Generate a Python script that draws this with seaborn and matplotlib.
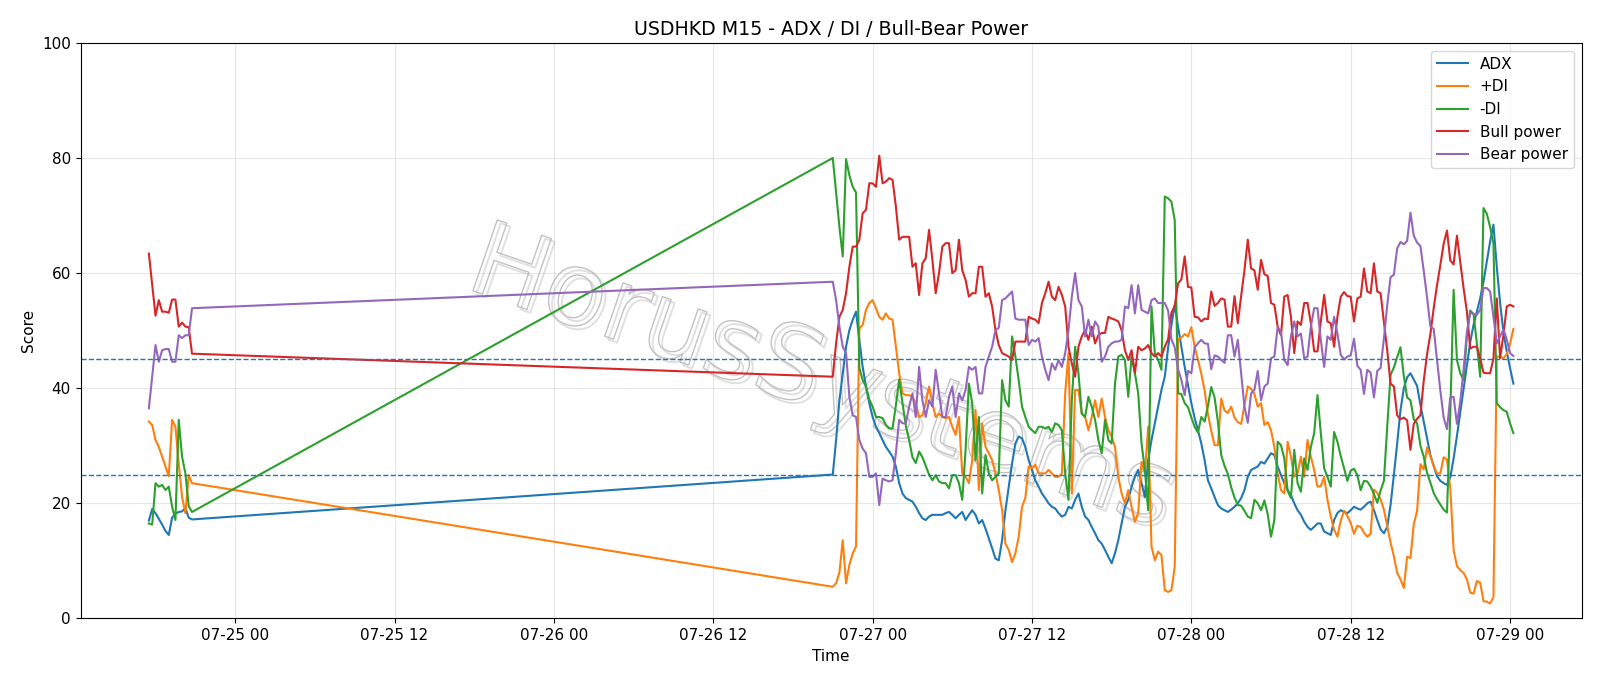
import numpy as np
import pandas as pd
import seaborn as sns
import matplotlib.pyplot as plt
import matplotlib.dates as mdates
import matplotlib.patheffects as pe

plt.rcParams["font.size"] = 11

# data (M15 bars, Friday close -> Sunday open gap)

pre_start = "2020-07-24 17:30"
post_start = "2020-07-26 21:00"

adx_pre = [17, 19, 18.3, 17.3, 16.3, 15.2, 14.5, 17.5, 18.2, 18.5, 18.6, 19.2, 17.5, 17.2]
adx_post = [25, 31, 37.9, 42.6, 47.2, 50.1, 51.9, 53.3, 48.4, 43.7, 40.3, 37.4, 35, 33.3, 32.2, 31, 29.8, 29, 28.1, 26.4,
            23.5, 21.7, 20.9, 20.6, 20.3, 19.4, 18.3, 17.4, 17.1, 17.7, 18, 18, 18, 18, 18.3, 18.5, 18, 17.4, 18, 18.5,
            17.1, 18, 18.8, 18, 16.5, 17.1, 15.6, 13.9, 12.2, 10.4, 10.1,
            13.6, 18.8, 22.9, 26.9, 30.4, 31.6, 31.3, 29.8, 27.5, 25.8, 24, 22.9, 21.7, 20.9, 20, 19.4, 19.1, 18.3, 17.7,
            18, 19.4, 19.1, 20.6, 21.7, 19.4, 17.7, 17.1, 15.9, 14.8, 13.6, 13, 11.9, 10.7, 9.6, 11.3, 13.6, 16.5, 19.4,
            20.6, 22.9, 24.6, 25.8, 23.5, 21.1, 27.5, 31, 33.9, 36.8, 39.7,
            42, 47, 51, 54.5, 50.7, 47.2, 43.7, 40.6, 37.4, 34.8, 32.7, 30.4, 27.5, 24, 22.6, 21.1, 19.7, 19.1, 18.8, 18.5,
            18.9, 19.4, 20, 20.9, 22.3, 24.6, 25.8, 26.1, 26.4, 27.2, 26.9, 27.8, 28.7, 28.4, 26.4, 24.9, 23.5, 22.3, 21.4,
            20, 18.8, 18, 16.8, 15.9, 15.4, 15.9, 16.5, 16.5, 15.1, 14.8, 14.5, 17.1, 18.3,
            18.8, 18.5, 18.3, 18.8, 19.4, 19.1, 18.9, 19.4, 20, 20.3, 18.8, 17.1, 15.5, 14.8, 15.9, 19.7, 24.9, 30.4, 36.2,
            40, 41.9, 42.6, 41.5, 40.4, 37.1, 34.2, 31.3, 28.4, 26.5, 24.7, 23.9, 23.5, 23.2, 24.5, 27.8, 31.7, 35.8, 39.9,
            43.9, 48, 51, 53.3, 55.6, 58.5, 62, 65.5, 68.4, 61.1, 54.8, 49.8, 46.4, 43.5, 40.8]

pdi_pre = [34.2, 33.6, 31, 29.8, 28.1, 26.4, 24.7, 34.5, 33.3, 26.9, 21.1, 18.3, 24.9, 23.5]
pdi_post = [5.5, 6.1, 8, 13.6, 6.1, 9.3, 11.3, 12.5, 50.4, 51, 53.6, 54.8, 55.3, 53.9, 52.4, 51.9, 53, 52.1, 51.9, 47.2,
            42.6, 39.1, 38.8, 38.8, 38.5, 37.4, 35, 35.3, 37.4, 40.3, 37.4, 35, 35.6, 35, 34.8, 35, 33.3, 31.9, 35, 25.2,
            24.6, 23.5, 27.5, 36.2, 22.3, 33.9, 29.8, 28.7, 27.5, 25.2, 22.3,
            18.8, 13, 11.9, 9.8, 11.3, 14.2, 19.4, 20.9, 26.4, 26.1, 26.7, 25.2, 25.2, 25.2, 25.8, 25.2, 24.6, 24.6, 25.2,
            39.1, 46.1, 21.7, 39.7, 39.7, 35.6, 35, 32.7, 35, 37.9, 35, 38.2, 35, 32.7, 31.6, 29.8, 24.6, 21.7, 20, 22.3,
            19.4, 16.8, 18.3, 27.2, 25.2, 33.3, 12.5, 10.1, 11.6, 11,
            4.9, 4.6, 4.9, 9, 48.5, 48.8, 49.4, 49, 50.6, 47.2, 44.9, 42.5, 39.6, 35.5, 32.6, 30.1, 30.1, 38.2, 36.1, 35.7,
            36.8, 34.9, 34.1, 33.8, 37, 40.3, 39.9, 39, 36.8, 37.4, 33.6, 34.1, 32.7, 29.8, 25.2, 22.3, 21.7, 30.7, 28.1,
            24.6, 25.2, 28.1, 24.6, 31, 28.1, 25.8, 22.9, 23, 24.6, 20.6, 17.7, 15.4, 14.2,
            17, 18.7, 17.8, 16.6, 14.7, 16.1, 15.9, 14.9, 14.2, 14.7, 22.4, 21.8, 20.7, 18.9, 16.1, 13.2, 10.8, 7.9, 6.8,
            5.3, 10.7, 10.5, 16.4, 18.7, 26.8, 25.9, 29.7, 28.2, 26.5, 25.2, 25.2, 28, 27.6, 22.6, 11.9, 9.1, 8.4, 7.9,
            6.8, 4.5, 4.3, 6.5, 6.2, 3, 2.9, 2.6, 3.7, 45.5, 45.5, 45.2, 45.9, 47.7, 50.3]

mdi_pre = [16.5, 16.3, 23.5, 22.9, 23.2, 22.3, 22.9, 19.4, 17.1, 34.5, 28.1, 25.2, 19.5, 18.5]
mdi_post = [80, 74, 68, 62.9, 79.8, 77, 75, 74, 43.5, 41.4, 40.3, 38, 36.8, 35, 35, 34.8, 33.6, 33, 33, 37,
            41.5, 37.4, 33.5, 31, 28, 27, 29, 28, 26.5, 25, 24, 24.9, 23.8, 23.5, 23.5, 22.6, 24.9, 24.9, 23.5, 20.6,
            29.3, 40.8, 37.4, 27.5, 35, 21.7, 28.4, 25.2, 24, 24.6, 25.2,
            41.4, 37.9, 36.8, 49, 45.5, 41.4, 36.8, 35, 33.3, 32.7, 32.2, 33.3, 33.3, 33, 33.3, 32.4, 33.9, 33.6, 32.7,
            25.2, 20.6, 37.9, 47.2, 42.6, 35.6, 35, 38.5, 36.8, 34.5, 31, 28.7, 34.5, 31, 30.4, 40.8, 45.5, 45.8, 44.9,
            38.5, 45.5, 42.6, 39.1, 30.4, 25.8, 18.8, 54.2, 46.1, 44.9, 43.2,
            73.3, 73, 72.4, 69.2, 39.1, 39, 37.4, 36.7, 34.9, 33.3, 32.3, 35, 34.2, 36.9, 40.2, 38.4, 34.2, 28.4, 26.5,
            25.1, 22.8, 21, 19.7, 19.6, 18.7, 17.7, 17.4, 20.6, 20, 18.8, 20.5, 18.1, 14.2, 17.1, 30.7, 30.1, 27.8, 22.2,
            20.9, 29.3, 23.5, 22, 27.8, 25.8, 29.8, 32.2, 38.8, 32.2, 26.1, 24.6, 22.9, 32.4, 30.7,
            28.2, 26.1, 23.9, 25.7, 26, 24.9, 22.3, 23.9, 23.8, 22.9, 21.6, 20.1, 22.2, 23.9, 33.3, 42.3, 43.6, 45.4,
            47.1, 42.1, 38.4, 37.9, 34.6, 33.9, 30, 28.1, 25.3, 23.6, 21.8, 20.7, 19.8, 18.9, 18.4, 35.6, 57.1, 44.9,
            42.6, 41.4, 49, 53.5, 52.9, 47.8, 42, 71.3, 70.3, 68, 65.1, 37.4, 36.7, 36.2, 35.9, 33.9, 32.2]

bull_pre = [63.4, 58, 52.6, 55.3, 53.3, 53.3, 53.1, 55.4, 55.4, 50.7, 51.4, 50.7, 50.6, 46]
bull_post = [42, 47.8, 52.4, 53.6, 56.5, 61.1, 64.6, 64.6, 65.8, 70.4, 71, 75.6, 75.6, 75, 80.4, 75.6, 75.9, 76.5, 76.2,
             71.6, 65.8, 66.3, 66.3, 66.3, 61.1, 61.7, 56.2, 61.7, 62.6, 67.5, 62.3, 56.5, 60, 64.6, 65.2, 65.2, 60,
             60.5, 65.8, 60.5, 58.8, 55.9, 56.5, 56.5, 61.1, 61.1, 55.9, 56.5, 54.2, 50.1, 47.5,
             46.1, 45.8, 45.5, 44.9, 48.1, 48.1, 48.1, 48.1, 52.4, 52.1, 51.9, 51.3, 54.8, 56.5, 58.5, 55.9, 55.3, 57.6,
             56.2, 54.2, 47.2, 44.3, 42, 47.2, 49, 50.1, 48.4, 50.7, 47.8, 49.2, 49.6, 49.6, 52.4, 52.1, 51.9, 51.6,
             50.1, 46.6, 44.9, 46.6, 42.6, 47.2, 46.6, 46.9, 47.5, 46.1, 45.5, 46.1, 45.5,
             47.2, 48.5, 53.1, 54.3, 58.2, 58.9, 62.9, 57.6, 57.5, 52.4, 52.3, 51.6, 52.1, 52, 56.8, 54.3, 54.8, 55.6,
             55.4, 50.7, 50.7, 56, 51.3, 56, 60.5, 65.8, 60.8, 60.5, 57.1, 62.3, 59.8, 59.5, 54.8, 54.5, 50.7, 49.2,
             55.9, 56.2, 52.4, 46.1, 51.6, 51, 54.8, 54.8, 51.3, 46.4, 46.4, 51.6, 56.2, 51.6, 51.3, 47.2, 52.4,
             55.9, 56.7, 56, 55.9, 51.6, 55.6, 55.9, 60.8, 56.8, 56.5, 61.7, 56.8, 56.5, 51.6, 46.6, 40.8, 40.3, 35.3,
             34.6, 34.9, 34.4, 29.3, 33.8, 34.7, 35.3, 41.3, 45.9, 49.4, 53.9, 57.9, 61.4, 65.1, 67.4, 62.2, 61.5, 66.5,
             62, 57.4, 53.3, 46.9, 47.2, 47.2, 45.2, 42.7, 42.6, 42.6, 45.2, 55.6, 45.2, 49.2, 54.2, 54.5, 54.2]

bear_pre = [36.5, 42, 47.5, 44.6, 46.6, 46.8, 46.8, 44.6, 44.6, 49.2, 48.7, 49.2, 49.2, 53.9]
bear_post = [58.5, 55.3, 50.7, 47.2, 46.1, 38.5, 35.3, 35, 31, 29.5, 28.7, 24.6, 24.6, 25.2, 19.7, 24.3, 24, 23.8, 24,
             28.7, 34.5, 33.9, 33.9, 36.8, 39.1, 35, 43.7, 37.9, 35, 37.9, 36.8, 43.2, 39.1, 35, 35, 38.5, 40.3, 35,
             39.1, 37.9, 39.7, 43.7, 43.2, 43.7, 39.1, 39.1, 43.7, 45.5, 47.2, 50.1, 50.5,
             55.3, 55.6, 56.2, 56.8, 52.1, 51.9, 51.9, 51.9, 47.5, 48.4, 48.1, 48.7, 45.5, 43.2, 41.4, 44.3, 43.2, 44.9,
             43.7, 46.1, 50.1, 55.9, 60, 55.3, 54.2, 49, 51.9, 49, 51.6, 50.7, 44.6, 45.5, 47.2, 47.8, 48.1, 48.1, 48.4,
             54.2, 53.9, 57.9, 53, 57.9, 53.6, 53.3, 53, 55.3, 55.6, 54.8, 54.8,
             54.8, 53.5, 48.5, 47.1, 43.3, 41.4, 38.8, 43, 42.6, 47.1, 47.8, 48.4, 47.8, 47.7, 43.3, 45.7, 45.5, 44.9,
             44.4, 49.2, 49.2, 45.5, 48.4, 42.6, 36.8, 34, 39.1, 39.7, 43, 37.9, 40.3, 40.8, 45.2, 45.5, 50.6, 49.8,
             44.9, 44, 49, 51.6, 49, 49.5, 45.2, 45.5, 50.7, 53.9, 53.9, 48.4, 43.7, 49, 48.4, 52.4, 49.5,
             45.8, 45, 45.5, 45.7, 48.6, 43.9, 43.2, 39, 43.2, 42.7, 38.4, 43, 43.5, 48.6, 54.4, 59.3, 59.7, 64.3, 65.4,
             65, 65.6, 70.5, 66.5, 65.3, 64.7, 60.4, 55.8, 50.7, 50.3, 44.9, 39.6, 34.9, 32.9, 38.4, 38.5, 33.8, 37.7,
             43.2, 49.8, 53.1, 52.9, 52.8, 53.6, 57.4, 57.4, 56.8, 52.4, 47.8, 49, 50.2, 48.5, 46.1, 45.6]

labels = ["ADX", "+DI", "-DI", "Bull power", "Bear power"]
levels = [25, 45]

times = pd.date_range(pre_start, periods=len(adx_pre), freq="15min").append(
    pd.date_range(post_start, periods=len(adx_post), freq="15min"))

df = pd.DataFrame({
    "ADX": adx_pre + adx_post,
    "+DI": pdi_pre + pdi_post,
    "-DI": mdi_pre + mdi_post,
    "Bull power": bull_pre + bull_post,
    "Bear power": bear_pre + bear_post,
}, index=times)
df.index.name = "Time"

# plot

fig, ax = plt.subplots(figsize=(16, 6.86), dpi=100)
fig.subplots_adjust(left=0.0504, right=0.9885, bottom=0.0985, top=0.9375)

for i, name in enumerate(labels):
    sns.lineplot(x=df.index, y=df[name], ax=ax, label=name, color="C%d" % i, linewidth=1.5)

for lv in levels:
    ax.axhline(lv, color="C0", linestyle="--", linewidth=1)

# outlined watermark
ax.text(0.255, 0.575, "HorusSystems", transform=ax.transAxes, fontsize=74,
        rotation=-19, rotation_mode="anchor", ha="left", va="baseline",
        color=(1, 1, 1, 0), zorder=1,
        path_effects=[pe.Stroke(offset=(2.5, -2.5), linewidth=1.4, foreground="#e0e0e0"),
                      pe.Stroke(linewidth=1.0, foreground="#c2c2c2")])

ax.set_ylim(0, 100)
ax.xaxis.set_major_locator(mdates.HourLocator(byhour=[0, 12]))
ax.xaxis.set_major_formatter(mdates.DateFormatter("%m-%d %H"))
ax.grid(True, alpha=0.3)
ax.set_title("USDHKD M15 - ADX / DI / Bull-Bear Power", fontsize=13.7)
ax.set_xlabel("Time")
ax.set_ylabel("Score")
ax.legend(loc="upper right")

fig.savefig("out.png", dpi=100)
plt.close()
